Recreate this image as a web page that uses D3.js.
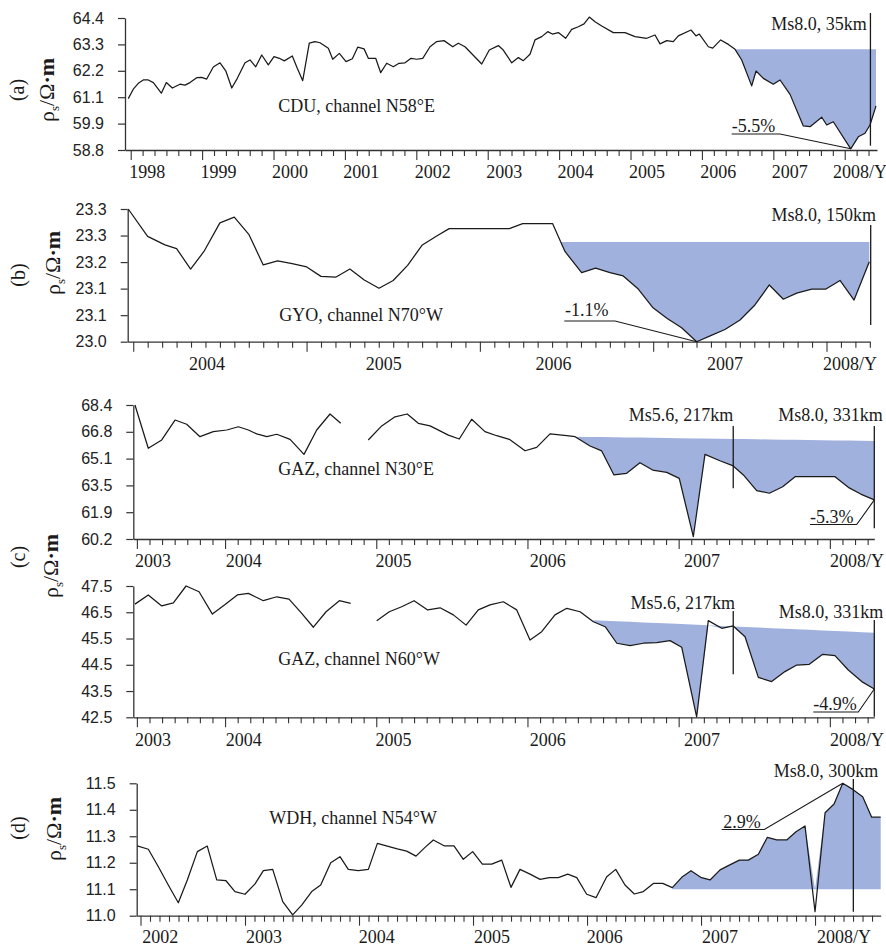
<!DOCTYPE html>
<html>
<head>
<meta charset="utf-8">
<script src="https://cdn.jsdelivr.net/npm/d3@7"></script>
<style>
  html, body { margin: 0; padding: 0; background: #fff; overflow: hidden; }
  svg { display: block; }
</style>
</head>
<body>
<svg id="chart" width="886" height="948"></svg>
<script>
// ---------------------------------------------------------------
// Apparent resistivity series (fractional year, ρs in Ω·m)
// ---------------------------------------------------------------

// (a) CDU, channel N58°E
const cduTimes = [1997.966,1998.036,1998.106,1998.176,1998.246,1998.317,1998.429,1998.499,1998.583,1998.690,
  1998.760,1998.830,1998.924,1998.994,1999.064,1999.157,1999.251,1999.331,1999.415,1999.493,
  1999.601,1999.671,1999.751,1999.835,1999.927,2000.007,2000.081,2000.151,2000.263,2000.333,
  2000.409,2000.501,2000.581,2000.651,2000.768,2000.829,2000.922,2001.015,2001.104,2001.179,
  2001.268,2001.328,2001.431,2001.501,2001.585,2001.678,2001.758,2001.842,2001.926,2002.006,
  2002.090,2002.192,2002.286,2002.388,2002.510,2002.588,2002.682,2002.916,2003.022,2003.148,
  2003.218,2003.336,2003.429,2003.499,2003.592,2003.662,2003.756,2003.840,2003.905,2003.989,
  2004.092,2004.176,2004.269,2004.349,2004.423,2004.503,2004.597,2004.759,2004.923,2005.063,
  2005.227,2005.343,2005.413,2005.507,2005.599,2005.669,2005.847,2005.917,2005.964,2006.090,
  2006.151,2006.263,2006.370,2006.464,2006.557,2006.697,2006.758,2006.860,2007.000,2007.094,
  2007.234,2007.420,2007.514,2007.678,2007.748,2007.840,2008.084,2008.190,2008.284,2008.354,
  2008.438];
const cduValues = [60.98,61.38,61.63,61.77,61.77,61.66,61.21,61.66,61.43,61.59,
  61.55,61.66,61.87,61.88,61.81,62.32,62.50,62.16,61.43,61.84,
  62.50,62.62,62.33,62.83,62.41,62.76,62.69,62.58,62.79,62.27,
  61.74,63.33,63.40,63.35,63.12,62.65,62.90,62.55,62.67,63.16,
  63.09,62.69,62.69,62.08,62.48,62.33,62.48,62.50,62.69,62.65,
  62.69,63.18,63.40,63.44,63.18,63.33,63.18,62.45,63.04,63.23,
  63.04,62.50,62.72,62.59,62.86,63.47,63.61,63.82,63.72,63.78,
  63.54,63.92,64.03,64.15,64.44,64.24,64.06,63.78,63.78,63.61,
  63.54,63.68,63.30,63.44,63.40,63.64,63.89,63.64,63.72,63.18,
  63.12,63.47,63.28,63.07,62.62,61.52,62.15,61.84,61.59,61.77,
  61.16,59.82,59.79,60.19,59.86,60.00,58.85,59.36,59.51,59.86,
  60.67];
const cduTickLabels = ["58.8","59.9","61.1","62.2","63.3","64.4"];
const cduYears = ["1998","1999","2000","2001","2002","2003","2004","2005","2006","2007","2008/Y"];
const cduYearAt = [1998.23,1999.23,2000.23,2001.23,2002.23,2003.23,2004.23,2005.23,2006.23,2007.23,2008.214];

// (b) GYO, channel N70°W
const gyoTimes = [2004.076,2004.188,2004.288,2004.355,2004.436,2004.513,2004.605,2004.688,2004.773,2004.855,
  2004.938,2005.022,2005.106,2005.188,2005.273,2005.355,2005.438,2005.523,2005.605,2005.688,
  2005.773,2005.856,2005.928,2006.009,2006.275,2006.352,2006.525,2006.596,2006.692,2006.773,
  2006.856,2006.932,2007.019,2007.102,2007.186,2007.269,2007.356,2007.437,2007.519,2007.606,
  2007.692,2007.775,2007.856,2007.933,2008.020,2008.102,2008.183,2008.264,2008.352];
const gyoValues = [23.325,23.258,23.237,23.228,23.178,23.221,23.291,23.305,23.262,23.188,
  23.198,23.191,23.183,23.160,23.158,23.178,23.151,23.131,23.150,23.187,
  23.237,23.259,23.277,23.277,23.277,23.289,23.289,23.221,23.169,23.180,
  23.169,23.161,23.129,23.084,23.057,23.034,23.000,23.015,23.030,23.053,
  23.090,23.139,23.104,23.119,23.129,23.129,23.150,23.102,23.196];
const gyoTickLabels = ["23.0","23.1","23.1","23.2","23.3","23.3"];
const gyoYears = ["2004","2005","2006","2007","2008/Y"];
const gyoYearAt = [2004.53,2005.55,2006.53,2007.52,2008.24];

// (c) GAZ, channels N30°E and N60°W (null marks the missing interval)
const gazTimes = [2003.470,2003.558,2003.647,2003.735,2003.812,2003.900,2003.988,2004.077,2004.154,2004.220,
  2004.275,2004.342,2004.408,2004.496,2004.588,2004.672,2004.760,2004.831,2004.920,2005.013,
  2005.102,2005.190,2005.271,2005.344,2005.422,2005.543,2005.615,2005.697,2005.785,2005.863,
  2005.946,2006.050,2006.127,2006.215,2006.326,2006.381,2006.480,2006.557,2006.638,2006.722,
  2006.810,2006.894,2006.987,2007.070,2007.163,2007.240,2007.339,2007.427,2007.494,2007.582,
  2007.666,2007.754,2007.836,2008.100,2008.188,2008.270,2008.360];
const gazN30EValues = [68.40,65.75,66.26,67.48,67.22,66.46,66.77,66.87,67.07,66.87,
  66.63,66.46,66.61,66.30,65.38,66.87,67.85,67.28,null,66.26,
  67.12,67.68,67.85,67.28,67.12,66.56,66.32,67.53,66.77,66.52,
  66.30,65.60,65.81,66.63,66.52,66.46,65.89,65.59,64.12,64.22,
  64.87,64.42,64.28,63.91,60.34,65.38,64.99,64.67,64.12,63.16,
  63.00,63.40,64.01,64.01,63.36,62.95,62.59];
const gazN30ETickLabels = ["60.2","61.9","63.5","65.1","66.8","68.4"];

const gazN60WTimes = [2003.470,2003.558,2003.647,2003.724,2003.808,2003.894,2003.982,2004.066,2004.147,2004.220,
  2004.319,2004.408,2004.489,2004.573,2004.650,2004.734,2004.822,2004.897,2004.980,2005.069,
  2005.152,2005.234,2005.316,2005.406,2005.488,2005.576,2005.660,2005.741,2005.818,2005.906,
  2005.995,2006.083,2006.160,2006.248,2006.326,2006.414,2006.502,2006.580,2006.657,2006.745,
  2006.833,2006.921,2007.009,2007.086,2007.185,2007.262,2007.351,2007.427,2007.505,2007.593,
  2007.681,2007.769,2007.847,2007.930,2008.019,2008.100,2008.188,2008.277,2008.360];
const gazN60WValues = [46.81,47.16,46.74,46.86,47.50,47.28,46.43,46.80,47.16,47.22,
  46.94,47.09,47.00,46.46,45.93,46.52,46.94,46.84,null,46.18,
  46.52,46.71,46.94,46.59,46.67,46.40,46.01,46.59,46.78,46.90,
  46.59,45.44,45.76,46.40,46.65,46.52,46.14,45.95,45.32,45.23,
  45.32,45.34,45.42,45.17,42.52,46.18,45.89,45.98,45.57,44.02,
  43.86,44.24,44.49,44.52,44.90,44.85,44.30,43.86,43.58];
const gazN60WTickLabels = ["42.5","43.5","44.5","45.5","46.5","47.5"];
const gazYears = ["2003","2004","2005","2006","2007","2008/Y"];
const gazYearAt = [2003.59,2004.19,2005.18,2006.20,2007.22,2008.246];

// (d) WDH, channel N54°W
const wdhTimes = [2002.079,2002.176,2002.264,2002.351,2002.439,2002.518,2002.606,2002.693,2002.776,2002.857,
  2002.936,2003.024,2003.112,2003.185,2003.267,2003.355,2003.442,2003.521,2003.609,2003.688,
  2003.776,2003.857,2003.930,2004.018,2004.106,2004.185,2004.272,2004.360,2004.442,2004.524,
  2004.603,2004.676,2004.770,2004.857,2004.939,2005.021,2005.106,2005.188,2005.276,2005.357,
  2005.436,2005.524,2005.612,2005.693,2005.772,2005.855,2005.934,2006.021,2006.103,2006.197,
  2006.276,2006.357,2006.439,2006.518,2006.606,2006.688,2006.772,2006.855,2006.936,2007.021,
  2007.103,2007.191,2007.272,2007.360,2007.439,2007.527,2007.606,2007.688,2007.776,2007.857,
  2007.936,2008.024,2008.112,2008.191,2008.267,2008.355,2008.442,2008.521,2008.600];
const wdhValues = [11.264,11.251,11.185,11.116,11.049,11.135,11.242,11.263,11.135,11.132,
  11.091,11.081,11.120,11.170,11.175,11.053,11.003,11.040,11.091,11.116,
  11.200,11.223,11.175,11.170,11.175,11.273,11.263,11.252,11.244,11.225,
  11.258,11.286,11.264,11.264,11.213,11.242,11.195,11.195,11.210,11.107,
  11.175,11.157,11.137,11.144,11.144,11.157,11.144,11.081,11.068,11.147,
  11.175,11.116,11.082,11.091,11.122,11.122,11.106,11.145,11.170,11.145,
  11.135,11.173,11.191,11.210,11.210,11.232,11.296,11.286,11.286,11.317,
  11.339,11.015,11.389,11.422,11.500,11.477,11.449,11.372,11.372];
const wdhTickLabels = ["11.0","11.1","11.2","11.3","11.4","11.5"];
const wdhYears = ["2002","2003","2004","2005","2006","2007","2008/Y"];
const wdhYearAt = [2002.28,2003.19,2004.18,2005.19,2006.18,2007.19,2008.278];

// Earthquakes marked on the panels
const quakeWenchuan = 2008.36;   // Ms8.0, 12 May 2008
const quakeMs56 = 2007.427;      // Ms5.6 event

// ---------------------------------------------------------------
// Panel set-up
// ---------------------------------------------------------------
const FILL = "#a1b1dd";
const INK = "#1a1a1a";
const SERIF = "'Liberation Serif','Times New Roman',serif";
const SANS = "'Liberation Sans',Arial,sans-serif";

const panels = [
  { station: "CDU, channel N58°E", times: cduTimes, values: cduValues,
    yDomain: [58.8, 64.4], yLabels: cduTickLabels, xDomain: [1997.92, 2008.452],
    tickAnchor: 1998, tickStep: 1/6, longEvery: 6,
    years: cduYears, yearAt: cduYearAt,
    fill: { from: 2006.464, to: 2008.438, base: [63.07, 63.07], dir: -1 },
    quakes: [{ t: quakeWenchuan, text: "Ms8.0, 35km", lx: 866.7, ly: 30, y1: 13, y2: 145.7 }],
    pct: { text: "-5.5%", x: 731.7, y: 131.5, ul: [731.7, 780, 134], at: 2008.084 },
    box: { left: 125, right: 877, top: 18, bottom: 150, yearDy: 28 },
    stationXY: [278.3, 112] },
  { station: "GYO, channel N70°W", times: gyoTimes, values: gyoValues,
    yDomain: [23.0, 23.325], yLabels: gyoTickLabels, xDomain: [2004.073, 2008.356],
    tickAnchor: 2004.105, tickStep: 1/12, longEvery: 12,
    years: gyoYears, yearAt: gyoYearAt,
    fill: { from: 2006.572, to: 2008.352, base: [23.244, 23.244], dir: -1 },
    quakes: [{ t: quakeWenchuan, text: "Ms8.0, 150km", lx: 876, ly: 221, y1: 225, y2: 325 }],
    pct: { text: "-1.1%", x: 565, y: 316, ul: [564.3, 615, 321], at: 2007.356 },
    box: { left: 127.7, right: 870, top: 209, bottom: 341.7, yearDy: 28 },
    stationXY: [279.3, 321] },
  { station: "GAZ, channel N30°E", times: gazTimes, values: gazN30EValues,
    yDomain: [60.2, 68.4], yLabels: gazN30ETickLabels, xDomain: [2003.459, 2008.36],
    tickAnchor: 2004.066, tickStep: 1/12, longEvery: 12,
    years: gazYears, yearAt: gazYearAt,
    fill: { from: 2006.381, to: 2008.36, base: [66.46, 66.20], dir: -1 },
    quakes: [
      { t: quakeMs56, text: "Ms5.6, 217km", lx: 733.3, ly: 421, y1: 426, y2: 488.3 },
      { t: quakeWenchuan, text: "Ms8.0, 331km", lx: 882.7, ly: 421, y1: 426, y2: 528.3 }],
    pct: { text: "-5.3%", x: 810, y: 522.5, ul: [810, 856.7, 524.5], at: 2008.36 },
    box: { left: 133.3, right: 874.3, top: 405, bottom: 539, yearDy: 28 },
    stationXY: [278.3, 475] },
  { station: "GAZ, channel N60°W", times: gazN60WTimes, values: gazN60WValues,
    yDomain: [42.5, 47.5], yLabels: gazN60WTickLabels, xDomain: [2003.459, 2008.36],
    tickAnchor: 2004.066, tickStep: 1/12, longEvery: 12,
    years: gazYears, yearAt: gazYearAt,
    fill: { from: 2006.502, to: 2008.36, base: [46.20, 45.72], dir: -1 },
    quakes: [
      { t: quakeMs56, text: "Ms5.6, 217km", lx: 735, ly: 608.7, y1: 611, y2: 674.3 },
      { t: quakeWenchuan, text: "Ms8.0, 331km", lx: 883.3, ly: 617.7, y1: 620, y2: 716.7 }],
    pct: { text: "-4.9%", x: 813.3, y: 710, ul: [813.3, 858.3, 712], at: 2008.36 },
    box: { left: 133.3, right: 874.3, top: 586, bottom: 717.3, yearDy: 29 },
    stationXY: [278.3, 665] },
  { station: "WDH, channel N54°W", times: wdhTimes, values: wdhValues,
    yDomain: [11.0, 11.5], yLabels: wdhTickLabels, xDomain: [2002.074, 2008.60],
    tickAnchor: 2008.024, tickStep: 1/12, longEvery: 12,
    years: wdhYears, yearAt: wdhYearAt,
    fill: { from: 2006.772, to: 2008.60, base: [11.1, 11.1], dir: 1 },
    quakes: [{ t: quakeWenchuan, text: "Ms8.0, 300km", lx: 878.3, ly: 777, y1: 779, y2: 911.7 }],
    pct: { text: "2.9%", x: 723.3, y: 827.5, ul: [721.7, 764.3, 829.5], at: 2008.267 },
    box: { left: 136.7, right: 880.7, top: 783.3, bottom: 915.7, yearDy: 27 },
    stationXY: [269.3, 824] }
];

// Rotated panel tags and unit captions on the left margin
const sideLabels = [
  { tag: "(a)", tagXY: [17, 90],  unitXY: [46, 90] },
  { tag: "(b)", tagXY: [18, 275], unitXY: [52, 263] },
  { tag: "(c)", tagXY: [18, 557], unitXY: [50, 566] },
  { tag: "(d)", tagXY: [18, 828], unitXY: [53, 829] }
];

const svg = d3.select("#chart");

// linear read-out of a series at time t (skips gaps)
function valueAt(pts, t) {
  const v = pts.filter(d => d.v != null);
  if (t <= v[0].t) return v[0].v;
  for (let i = 0; i < v.length - 1; i++) {
    if (t >= v[i].t && t <= v[i + 1].t) {
      const r = (t - v[i].t) / (v[i + 1].t - v[i].t);
      return v[i].v + r * (v[i + 1].v - v[i].v);
    }
  }
  return v[v.length - 1].v;
}

function drawPanel(p) {
  const B = p.box;
  const x = d3.scaleLinear().domain(p.xDomain).range([B.left, B.right]);
  const y = d3.scaleLinear().domain(p.yDomain).range([B.bottom, B.top]);
  const g = svg.append("g");
  const pts = p.times.map((t, i) => ({ t, v: p.values[i] }));

  // shaded anomaly between the reference level and the curve
  const f = p.fill;
  const base = t => f.base[0] + (f.base[1] - f.base[0]) * (t - f.from) / (f.to - f.from);
  const seg = [{ t: f.from, v: valueAt(pts, f.from) }]
    .concat(pts.filter(d => d.v != null && d.t > f.from && d.t < f.to))
    .concat([{ t: f.to, v: valueAt(pts, f.to) }]);
  const clampV = d => f.dir < 0 ? Math.min(d.v, base(d.t)) : Math.max(d.v, base(d.t));
  g.append("path")
    .datum(seg)
    .attr("fill", FILL)
    .attr("stroke", "none")
    .attr("d", d3.area()
      .x(d => x(d.t))
      .y0(d => y(base(d.t)))
      .y1(d => y(clampV(d))));

  // y axis: six evenly spaced ticks with the printed labels
  const yTickVals = d3.range(6).map(i => p.yDomain[0] + i * (p.yDomain[1] - p.yDomain[0]) / 5);
  const yAx = g.append("g")
    .attr("transform", `translate(${B.left},0)`)
    .call(d3.axisLeft(y).tickValues(yTickVals)
      .tickFormat((d, i) => p.yLabels[i])
      .tickSizeInner(7).tickSizeOuter(0).tickPadding(14));
  yAx.select(".domain").attr("stroke", "#333").attr("stroke-width", 1.3);
  yAx.selectAll(".tick line").attr("stroke", "#333").attr("stroke-width", 1.2);
  yAx.selectAll(".tick text")
    .attr("fill", "#222")
    .style("font-family", SANS)
    .style("font-size", "16px");

  // x axis: monthly (or bimonthly) ticks, longer ones once a year
  const ticks = [];
  const k0 = Math.ceil((p.xDomain[0] - p.tickAnchor) / p.tickStep - 1e-6);
  for (let k = k0; ; k++) {
    const t = p.tickAnchor + k * p.tickStep;
    if (t > p.xDomain[1] + 1e-6) break;
    ticks.push({ t, long: Math.abs(k % p.longEvery) === 0 });
  }
  ticks[0].long = true;
  const xAx = g.append("g")
    .attr("transform", `translate(0,${B.bottom})`)
    .call(d3.axisBottom(x).tickValues(ticks.map(d => d.t))
      .tickFormat("").tickSizeInner(6).tickSizeOuter(0));
  xAx.select(".domain").attr("stroke", "#333").attr("stroke-width", 1.3);
  xAx.selectAll(".tick line")
    .attr("stroke", "#333").attr("stroke-width", 1.1)
    .attr("y2", (d, i) => ticks[i].long ? 10 : 6);

  g.selectAll("text.year")
    .data(p.years)
    .join("text")
    .attr("class", "year")
    .attr("x", (d, i) => x(p.yearAt[i]))
    .attr("y", B.bottom + B.yearDy)
    .attr("text-anchor", "middle")
    .attr("fill", INK)
    .style("font-family", SERIF)
    .style("font-size", "18px")
    .text(d => d);

  // resistivity curve
  g.append("path")
    .datum(pts)
    .attr("fill", "none")
    .attr("stroke", INK)
    .attr("stroke-width", 1.25)
    .attr("stroke-linejoin", "round")
    .attr("d", d3.line().defined(d => d.v != null).x(d => x(d.t)).y(d => y(d.v)));

  // earthquake markers
  p.quakes.forEach(q => {
    g.append("line")
      .attr("x1", x(q.t)).attr("x2", x(q.t))
      .attr("y1", q.y1).attr("y2", q.y2)
      .attr("stroke", INK).attr("stroke-width", 1.3);
    g.append("text")
      .attr("x", q.lx).attr("y", q.ly)
      .attr("text-anchor", "end")
      .attr("fill", INK)
      .style("font-family", SERIF)
      .style("font-size", "18px")
      .text(q.text);
  });

  // station / channel caption
  g.append("text")
    .attr("x", p.stationXY[0]).attr("y", p.stationXY[1])
    .attr("fill", INK)
    .style("font-family", SERIF)
    .style("font-size", "18px")
    .text(p.station);

  // relative change callout with underline and leader
  const c = p.pct;
  g.append("text")
    .attr("x", c.x).attr("y", c.y)
    .attr("fill", INK)
    .style("font-family", SERIF)
    .style("font-size", "18px")
    .text(c.text);
  const tx = x(c.at), ty = y(valueAt(pts, c.at));
  g.append("path")
    .attr("d", `M${c.ul[0]},${c.ul[2]}H${c.ul[1]}L${tx},${ty}`)
    .attr("fill", "none")
    .attr("stroke", INK)
    .attr("stroke-width", 1.1);
}

panels.forEach(drawPanel);

// left margin labels, rotated
sideLabels.forEach(s => {
  svg.append("text")
    .attr("transform", `translate(${s.tagXY[0]},${s.tagXY[1]}) rotate(-90)`)
    .attr("text-anchor", "middle")
    .attr("dy", "0.35em")
    .attr("fill", INK)
    .style("font-family", SERIF)
    .style("font-size", "20px")
    .text(s.tag);

  const u = svg.append("text")
    .attr("transform", `translate(${s.unitXY[0]},${s.unitXY[1]}) rotate(-90)`)
    .attr("text-anchor", "middle")
    .attr("dy", "0.35em")
    .attr("fill", INK)
    .style("font-family", SERIF)
    .style("font-size", "22px");
  u.append("tspan").text("ρ");
  u.append("tspan").attr("dy", 5).style("font-size", "13px").text("s");
  u.append("tspan").attr("dy", -5).text("/Ω");
  u.append("tspan").style("font-weight", "bold").text("·m");
});
</script>
</body>
</html>
